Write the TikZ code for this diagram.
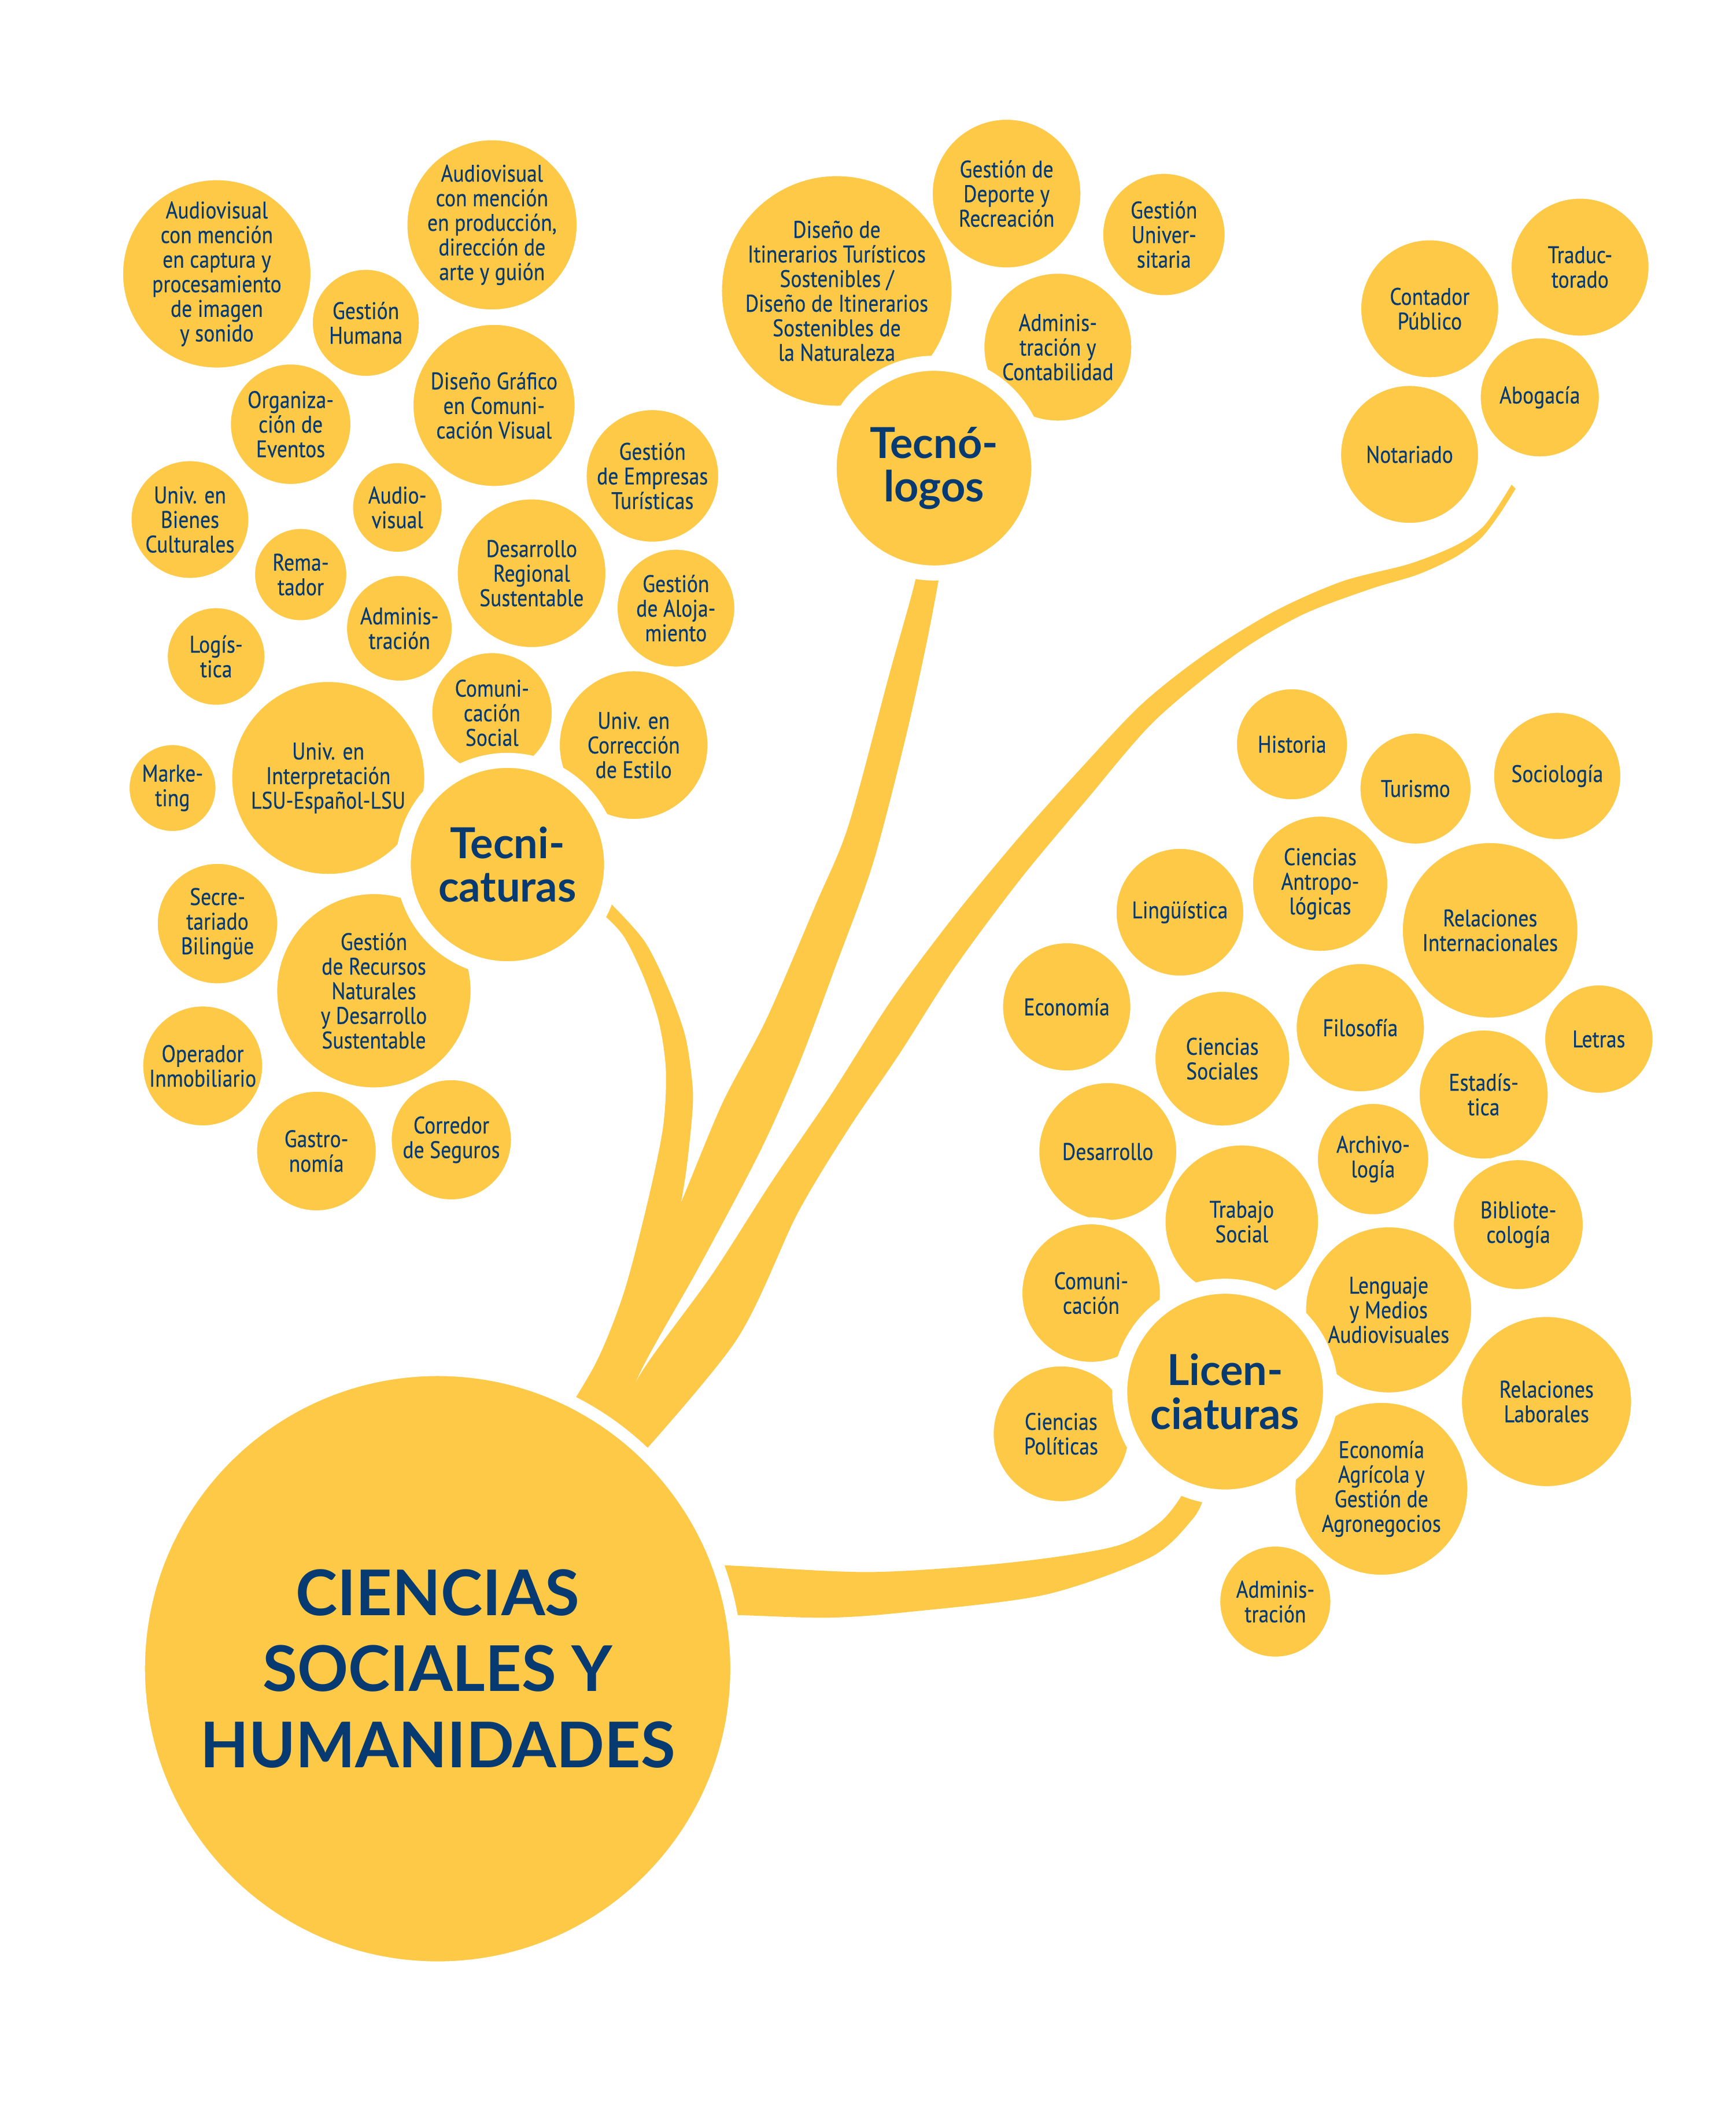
\documentclass[tikz,border=0pt]{standalone}
\usepackage{fontspec}
\usepackage{tikz}
\newfontfamily\bubfont[FakeStretch=0.86,FakeBold=0.3]{PT Sans}
\newfontfamily\hubfont{Lato}
\definecolor{amarillo}{HTML}{FDC946}
\definecolor{azul}{HTML}{063A70}
\newcommand{\px}{0.02321cm}
\newcommand{\ring}{1.2mm}
\newcommand{\hubring}{2.6mm}
\newcommand{\rootring}{2.1mm}

\begin{document}
\begin{tikzpicture}[x=0.02321cm, y=-0.02321cm]
        %\draw[help lines] (0,0) grid[step=100] (1293,1568);
        \tikzset{
          bub/.style={circle, fill=amarillo, draw=white, line width=\ring, inner sep=0pt,
            minimum size={2*#1*\px+\ring}, align=center, text=azul,
            font=\bubfont\fontsize{11.8pt}{12.1pt}\selectfont},
          hub/.style={circle, fill=amarillo, draw=white, line width=\hubring, inner sep=0pt,
            minimum size={2*#1*\px+\hubring}, align=center, text=azul,
            font=\hubfont\bfseries\fontsize{21pt}{21.5pt}\selectfont},
          rama/.style={fill=amarillo}
        }
        \useasboundingbox (0,0) rectangle (1293,1568);

        % ramas
        \fill[rama] plot[smooth] coordinates {(440,678) (449,681) (465,698) (480,729) (491,762) (496,797) (494,839) (483,893) (465,962) (444,1015) (412,1068)}
          -- plot[smooth] coordinates {(455,1085) (478,1010) (498,940) (510,880) (516,825) (515,800) (510,770) (498,737) (480,701) (453,671) (444,664)} -- cycle;
        \fill[rama] plot[smooth] coordinates {(681,405) (683,427) (662,504) (632,615) (608,673) (571,759) (538,822) (505,901) (475,965) (444,1020) (415,1075)}
          -- plot[smooth] coordinates {(450,1090) (477,1022) (520,945) (566,858) (595,793) (622,721) (650,644) (674,552) (690,480) (700,427) (702,405)} -- cycle;
        \fill[rama] plot[smooth] coordinates {(1126,361) (1106,391) (1085,406) (1050,420) (1000,433) (950,455) (898,487) (850,525) (800,578) (758,625) (711,682) (664,745) (618,817) (575,880) (530,950) (478,1022) (445,1085)}
          -- plot[smooth] coordinates {(465,1098) (548,999) (594,904) (632,841) (670,785) (711,721) (760,655) (810,595) (860,537) (921,487) (970,458) (1020,439) (1056,428) (1084,415) (1103,401) (1117,383) (1129,364)} -- cycle;
        \fill[rama] plot[smooth] coordinates {(515,1168) (539,1166) (648,1171) (752,1164) (830,1152) (864,1134) (882,1111) (884,1098)}
          -- plot[smooth] coordinates {(900,1102) (897,1115) (888,1132) (857,1160) (778,1188) (674,1201) (616,1205) (548,1203) (515,1203)} -- cycle;

        \node[circle, fill=amarillo, draw=white, line width=\rootring, inner sep=0pt,
          minimum size={2*218*\px+\rootring}, align=center, text=azul,
          font=\hubfont\bfseries\fontsize{31pt}{37.5pt}\selectfont]
          (csh) at (326,1243) {CIENCIAS\\SOCIALES Y\\HUMANIDADES};

        % tecnicaturas
        \node[bub=68] (av1) at (161.5,204) {Audiovisual\\con mención\\en captura y\\procesamiento\\de imagen\\y sonido};
        \node[bub=62.5] (av2) at (366.5,167.5) {Audiovisual\\con mención\\en producción,\\dirección de\\arte y guión};
        \node[bub=39.5] (ghu) at (272.5,240.5) {Gestión\\Humana};
        \node[bub=44.5] (oev) at (216.5,316) {Organiza-\\ción de\\Eventos};
        \node[bub=60] (dgr) at (368,302) {Diseño Gráfico\\en Comuni-\\cación Visual};
        \node[bub=49] (get) at (486,354.5) {Gestión\\de Empresas\\Turísticas};
        \node[bub=43.5] (ubc) at (141.5,387) {Univ. en\\Bienes\\Culturales};
        \node[bub=33] (aud) at (296,378) {Audio-\\visual};
        \node[bub=34] (rem) at (224,428) {Rema-\\tador};
        \node[bub=55] (drs) at (396,427) {Desarrollo\\Regional\\Sustentable};
        \node[bub=43.5] (gal) at (503.5,453) {Gestión\\de Aloja-\\miento};
        \node[bub=39] (adm) at (297.5,468) {Adminis-\\tración};
        \node[bub=36] (log) at (161,489) {Logís-\\tica};
        \node[bub=44.5] (cso) at (366.5,531) {Comuni-\\cación\\Social};
        \node[bub=55] (uce) at (472,555) {Univ. en\\Corrección\\de Estilo};
        \node[bub=71.5] (uil) at (244.5,579.5) {Univ. en\\Interpretación\\LSU-Español-LSU};
        \node[bub=32] (mkt) at (128.5,587) {Marke-\\ting};
        \node[bub=44.5] (sec) at (162,688) {Secre-\\tariado\\Bilingüe};
        \node[bub=72] (grn) at (278.5,738) {Gestión\\de Recursos\\Naturales\\y Desarrollo\\Sustentable};
        \node[bub=44.3] (opi) at (151,794) {Operador\\Inmobiliario};
        \node[bub=44.2] (gas) at (235.7,857.4) {Gastro-\\nomía};
        \node[bub=44.4] (cse) at (336.2,849) {Corredor\\de Seguros};

        % tecnologos
        \node[bub=85.5] (dit) at (623.3,216.7) {Diseño de\\Itinerarios Turísticos\\Sostenibles /\\Diseño de Itinerarios\\Sostenibles de\\la Naturaleza};
        \node[bub=55] (gdr) at (749.8,144.2) {Gestión de\\Deporte y\\Recreación};
        \node[bub=45.2] (gun) at (867,174.7) {Gestión\\Univer-\\sitaria};
        \node[bub=54.7] (aco) at (788,258.6) {Adminis-\\tración y\\Contabilidad};

        % contador
        \node[bub=51] (cpu) at (1065,230) {Contador\\Público};
        \node[bub=51] (tra) at (1177,199) {Traduc-\\torado};
        \node[bub=44] (abo) at (1147,296) {Abogacía};
        \node[bub=51] (not) at (1050,338.5) {Notariado};

        % licenciaturas
        \node[bub=41] (his) at (962.4,554.4) {Historia};
        \node[bub=41] (tur) at (1054.4,587.4) {Turismo};
        \node[bub=47] (soc) at (1160,578) {Sociología};
        \node[bub=50] (ant) at (983.4,658.3) {Ciencias\\Antropo-\\lógicas};
        \node[bub=47.2] (lin) at (878.9,679.5) {Lingüística};
        \node[bub=65] (rin) at (1110,693) {Relaciones\\Internacionales};
        \node[bub=47.4] (eco) at (794.6,750) {Economía};
        \node[bub=49.8] (cis) at (910.5,788.6) {Ciencias\\Sociales};
        \node[bub=47.4] (fil) at (1013.3,765.5) {Filosofía};
        \node[bub=40] (let) at (1191,774) {Letras};
        \node[bub=47.7] (est) at (1105.2,815.3) {Estadís-\\tica};
        \node[bub=51] (des) at (825.2,857.8) {Desarrollo};
        \node[bub=41.1] (arc) at (1022.8,863.4) {Archivo-\\logía};
        \node[bub=56.8] (tso) at (925,910) {Trabajo\\Social};
        \node[bub=48] (bib) at (1131,912.2) {Bibliote-\\cología};
        \node[bub=51.2] (com) at (812.8,963.2) {Comuni-\\cación};
        \node[bub=61.5] (lma) at (1034.4,975.7) {Lenguaje\\y Medios\\Audiovisuales};
        \node[bub=63] (rla) at (1152,1044) {Relaciones\\Laborales};
        \node[bub=50.2] (cpo) at (790.4,1068) {Ciencias\\Políticas};
        \node[bub=64] (eag) at (1029,1109) {Economía\\Agrícola y\\Gestión de\\Agronegocios};
        \node[bub=41] (adl) at (950,1193) {Adminis-\\tración};

        % nodos centrales
        \node[hub=72] (tec) at (378,644) {Tecni-\\caturas};
        \node[hub=72.5] (tgo) at (695.7,348.7) {Tecnó-\\logos};
        \node[hub=72.9] (lic) at (912.6,1036.6) {Licen-\\ciaturas};
\end{tikzpicture}
\end{document}
